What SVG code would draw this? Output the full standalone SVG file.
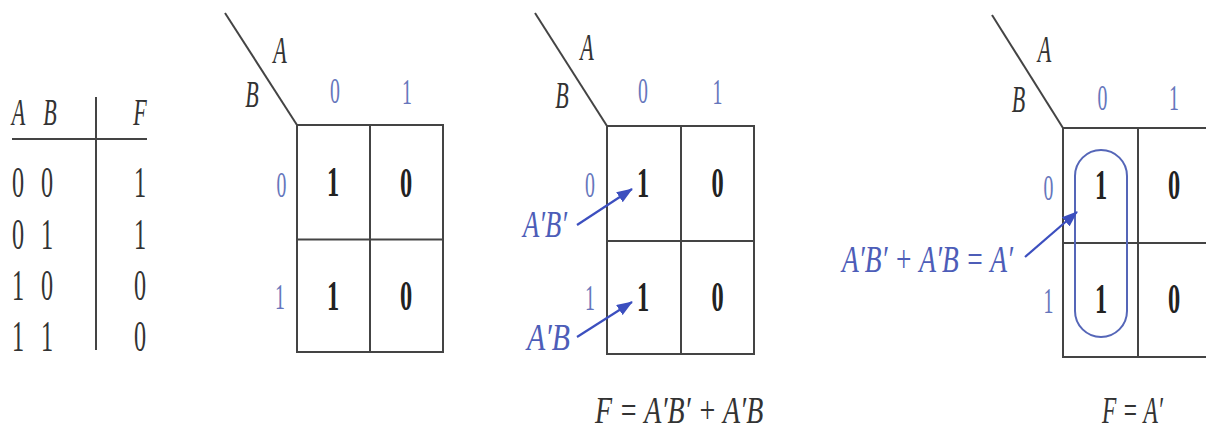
<svg xmlns="http://www.w3.org/2000/svg" width="1206" height="430" viewBox="0 0 1206 430">
<style>
text { font-family: "Liberation Serif", "Times New Roman", serif; }
.it { font-style: italic; fill: #333; font-size: 38px; }
.num { fill: #333; font-size: 44px; }
.ax { fill: #6676bc; font-size: 36px; }
.val { fill: #222; font-size: 42px; font-weight: bold; }
.expr { fill: #4d5db8; font-size: 38px; font-style: italic; }
.fml { fill: #333; font-size: 38px; font-style: italic; }
.ln { stroke: #444; stroke-width: 2; fill: none; }
.arr { stroke: #3c4fbf; stroke-width: 2.2; fill: none; marker-end: url(#ah); }
.loop { stroke: #5566b8; stroke-width: 2; fill: none; }
</style>
<defs>
<marker id="ah" markerUnits="userSpaceOnUse" markerWidth="16" markerHeight="12" refX="15" refY="6" orient="auto">
<path d="M0,0 L16,6 L0,12 Z" fill="#3c4fbf"/>
</marker>
</defs>
<rect width="1206" height="430" fill="#fff"/>

<g id="truth-table" text-anchor="middle">
<text class="it" transform="translate(18.5 125) scale(0.58 1)">A</text>
<text class="it" transform="translate(50 125) scale(0.58 1)">B</text>
<text class="it" transform="translate(140 125) scale(0.58 1)">F</text>
<line class="ln" x1="12" y1="139" x2="147" y2="139"/>
<line class="ln" x1="96" y1="97" x2="96" y2="350"/>
<text class="num" transform="translate(18 197) scale(0.55 1)">0</text>
<text class="num" transform="translate(47 197) scale(0.55 1)">0</text>
<text class="num" transform="translate(140 197) scale(0.55 1)">1</text>
<text class="num" transform="translate(18 248.5) scale(0.55 1)">0</text>
<text class="num" transform="translate(47 248.5) scale(0.55 1)">1</text>
<text class="num" transform="translate(140 248.5) scale(0.55 1)">1</text>
<text class="num" transform="translate(18 300) scale(0.55 1)">1</text>
<text class="num" transform="translate(47 300) scale(0.55 1)">0</text>
<text class="num" transform="translate(140 300) scale(0.55 1)">0</text>
<text class="num" transform="translate(18 351) scale(0.55 1)">1</text>
<text class="num" transform="translate(47 351) scale(0.55 1)">1</text>
<text class="num" transform="translate(140 351) scale(0.55 1)">0</text>
</g>

<g id="kmap1" text-anchor="middle">
<line class="ln" x1="225" y1="13" x2="297" y2="125"/>
<text class="it" transform="translate(280 63) scale(0.58 1)">A</text>
<text class="it" transform="translate(252 107) scale(0.58 1)">B</text>
<text class="ax" transform="translate(335 103) scale(0.55 1)">0</text>
<text class="ax" transform="translate(407 104) scale(0.55 1)">1</text>
<text class="ax" transform="translate(281.5 197) scale(0.55 1)">0</text>
<text class="ax" transform="translate(280 309) scale(0.55 1)">1</text>
<rect class="ln" x="297" y="125" width="146" height="227"/>
<line class="ln" x1="297" y1="239.5" x2="443" y2="239.5"/>
<line class="ln" x1="370" y1="125" x2="370" y2="352"/>
<text class="val" transform="translate(333 196) scale(0.58 1)">1</text>
<text class="val" transform="translate(406 197) scale(0.58 1)">0</text>
<text class="val" transform="translate(333 310) scale(0.58 1)">1</text>
<text class="val" transform="translate(406 310) scale(0.58 1)">0</text>
</g>

<g id="kmap2" text-anchor="middle">
<line class="ln" x1="535" y1="13" x2="607" y2="126"/>
<text class="it" transform="translate(587 60) scale(0.58 1)">A</text>
<text class="it" transform="translate(562 108) scale(0.58 1)">B</text>
<text class="ax" transform="translate(643 103) scale(0.55 1)">0</text>
<text class="ax" transform="translate(717.5 104) scale(0.55 1)">1</text>
<text class="ax" transform="translate(590 197) scale(0.55 1)">0</text>
<text class="ax" transform="translate(590 310) scale(0.55 1)">1</text>
<rect class="ln" x="607" y="126" width="147" height="228"/>
<line class="ln" x1="607" y1="241" x2="754" y2="241"/>
<line class="ln" x1="681" y1="126" x2="681" y2="354"/>
<text class="val" transform="translate(643 197) scale(0.58 1)">1</text>
<text class="val" transform="translate(717.5 197) scale(0.58 1)">0</text>
<text class="val" transform="translate(643 311) scale(0.58 1)">1</text>
<text class="val" transform="translate(717.5 311) scale(0.58 1)">0</text>
<text class="expr" text-anchor="start" transform="translate(523 237) scale(0.58 1)" textLength="76" lengthAdjust="spacingAndGlyphs">A′B′</text>
<text class="expr" text-anchor="start" transform="translate(527 350) scale(0.58 1)" textLength="74" lengthAdjust="spacingAndGlyphs">A′B</text>
<text class="fml" text-anchor="start" transform="translate(595 423) scale(0.58 1)" textLength="290" lengthAdjust="spacingAndGlyphs">F = A′B′ + A′B</text>
</g>

<g id="kmap3" text-anchor="middle">
<line class="ln" x1="992" y1="15" x2="1063" y2="128"/>
<text class="it" transform="translate(1044.5 62) scale(0.58 1)">A</text>
<text class="it" transform="translate(1018.5 112) scale(0.58 1)">B</text>
<text class="ax" transform="translate(1102.5 110) scale(0.55 1)">0</text>
<text class="ax" transform="translate(1174 110) scale(0.55 1)">1</text>
<text class="ax" transform="translate(1048.5 200) scale(0.55 1)">0</text>
<text class="ax" transform="translate(1048.5 313) scale(0.55 1)">1</text>
<rect class="ln" x="1063" y="128" width="160" height="229"/>
<line class="ln" x1="1063" y1="243" x2="1223" y2="243"/>
<line class="ln" x1="1138" y1="128" x2="1138" y2="357"/>
<rect class="loop" x="1075" y="150" width="52" height="187" rx="26" ry="26"/>
<text class="val" transform="translate(1101 199) scale(0.58 1)">1</text>
<text class="val" transform="translate(1174 199) scale(0.58 1)">0</text>
<text class="val" transform="translate(1101 313) scale(0.58 1)">1</text>
<text class="val" transform="translate(1174 313) scale(0.58 1)">0</text>
<text class="expr" text-anchor="start" transform="translate(842 272) scale(0.58 1)" textLength="295" lengthAdjust="spacingAndGlyphs">A′B′ + A′B = A′</text>
<text class="fml" text-anchor="start" transform="translate(1102 423) scale(0.58 1)" textLength="105" lengthAdjust="spacingAndGlyphs">F = A′</text>
</g>

<g id="connectors">
<line class="arr" x1="577" y1="225" x2="632" y2="189"/>
<line class="arr" x1="577" y1="337" x2="632" y2="302"/>
<line class="arr" x1="1025" y1="257" x2="1077" y2="212"/>
</g>
</svg>
